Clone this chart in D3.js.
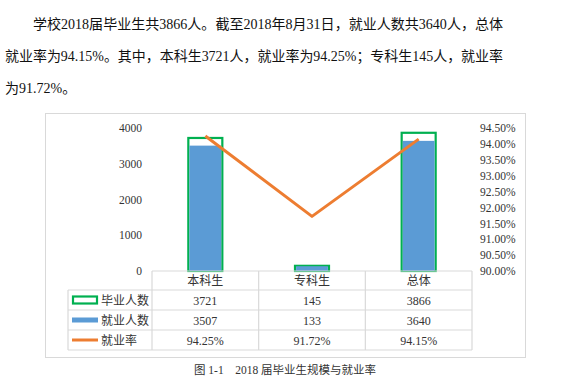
<!DOCTYPE html>
<html>
<head>
<meta charset="utf-8">
<script src="https://cdn.jsdelivr.net/npm/d3@7"></script>
<style>
  html, body { margin: 0; padding: 0; background: #fff; }
  svg { display: block; font-family: "Liberation Serif", "Noto Sans CJK SC", serif; }
</style>
</head>
<body>
<svg id="chart" width="586" height="387"></svg>
<script>
// data
const categories = ["本科生", "专科生", "总体"];
const graduates = [3721, 145, 3866];
const employed = [3507, 133, 3640];
const rates = [0.9425, 0.9172, 0.9415];
const rateLabels = ["94.25%", "91.72%", "94.15%"];
const leftTicks = [0, 1000, 2000, 3000, 4000];
const rightTicks = [0.90, 0.905, 0.91, 0.915, 0.92, 0.925, 0.93, 0.935, 0.94, 0.945];
const seriesNames = ["毕业人数", "就业人数", "就业率"];
const paragraph = [
    "学校2018届毕业生共3866人。截至2018年8月31日，就业人数共3640人，总体",
    "就业率为94.15%。其中，本科生3721人，就业率为94.25%；专科生145人，就业率",
    "为91.72%。"
];
const caption = "图 1-1　2018 届毕业生规模与就业率";

const GREEN = "#00b050", BLUE = "#5b9bd5", ORANGE = "#ed7d31", GRID = "#d9d9d9", TXT = "#333";

const svg = d3.select("#chart");

// paragraph text above the chart
svg.append("g").selectAll("text")
    .data(paragraph)
    .join("text")
    .attr("x", (d, i) => i === 0 ? 33 : 5)
    .attr("y", (d, i) => 29 + i * 32)
    .attr("font-size", 14)
    .attr("fill", "#111")
    .attr("textLength", (d, i) => i === 0 ? 470 : (i === 1 ? 498 : null))
    .attr("lengthAdjust", "spacingAndGlyphs")
    .text(d => d);

// chart frame
svg.append("rect")
    .attr("x", 45.5).attr("y", 113.5)
    .attr("width", 480).attr("height", 244)
    .attr("fill", "none").attr("stroke", GRID);

const x = d3.scaleBand().domain(categories).range([152, 472]);
const yL = d3.scaleLinear().domain([0, 4000]).range([271, 128]);
const yR = d3.scaleLinear().domain([0.90, 0.945]).range([271, 128]);
const barW = 34;

// axes (labels only)
const leftAxis = svg.append("g")
    .attr("transform", "translate(142,0)")
    .call(d3.axisLeft(yL).tickValues(leftTicks).tickSize(0).tickPadding(0).tickFormat(d3.format("d")));
const rightAxis = svg.append("g")
    .attr("transform", "translate(480,0)")
    .call(d3.axisRight(yR).tickValues(rightTicks).tickSize(0).tickPadding(0).tickFormat(d3.format(".2%")));
[leftAxis, rightAxis].forEach(a => {
    a.select(".domain").remove();
    a.attr("font-family", null).attr("font-size", 11.5);
    a.selectAll("text").attr("fill", TXT);
});

// bars: graduates as green outline, employed blue overlaid
const bars = svg.append("g");
bars.selectAll("rect.grad")
    .data(categories)
    .join("rect")
    .attr("class", "grad")
    .attr("x", d => x(d) + x.bandwidth() / 2 - barW / 2)
    .attr("y", (d, i) => yL(graduates[i]))
    .attr("width", barW)
    .attr("height", (d, i) => yL(0) - yL(graduates[i]))
    .attr("fill", "#fff")
    .attr("stroke", GREEN)
    .attr("stroke-width", 2.2);
bars.selectAll("rect.emp")
    .data(categories)
    .join("rect")
    .attr("class", "emp")
    .attr("x", d => x(d) + x.bandwidth() / 2 - barW / 2 + 1.1)
    .attr("y", (d, i) => yL(employed[i]))
    .attr("width", barW - 2.2)
    .attr("height", (d, i) => yL(0) - yL(employed[i]))
    .attr("fill", BLUE);

// employment-rate line
const line = d3.line()
    .x((d, i) => x(categories[i]) + x.bandwidth() / 2)
    .y(d => yR(d));
svg.append("path")
    .datum(rates)
    .attr("d", line)
    .attr("fill", "none")
    .attr("stroke", ORANGE)
    .attr("stroke-width", 3)
    .attr("stroke-linejoin", "round");

// data table under the plot
const rowY = [271, 290, 310, 330, 350];
const tableLeft = 68;
const grid = svg.append("g").attr("stroke", GRID).attr("stroke-width", 1.2);
grid.append("line").attr("x1", 152).attr("x2", 472).attr("y1", rowY[0]).attr("y2", rowY[0]);
rowY.slice(1).forEach(y => {
    grid.append("line").attr("x1", tableLeft).attr("x2", 472).attr("y1", y).attr("y2", y);
});
grid.append("line").attr("x1", tableLeft).attr("x2", tableLeft).attr("y1", rowY[1]).attr("y2", rowY[4]);
x.domain().forEach(c => {
    grid.append("line").attr("x1", x(c)).attr("x2", x(c)).attr("y1", rowY[0]).attr("y2", rowY[4]);
});
grid.append("line").attr("x1", 472).attr("x2", 472).attr("y1", rowY[0]).attr("y2", rowY[4]);

const cell = (txt, cx, row) => svg.append("text")
    .attr("x", cx).attr("y", (rowY[row] + rowY[row + 1]) / 2 + 4.5)
    .attr("text-anchor", "middle")
    .attr("font-size", 12)
    .attr("fill", TXT)
    .text(txt);

categories.forEach((c, i) => {
    const cx = x(c) + x.bandwidth() / 2;
    cell(c, cx, 0);
    cell(graduates[i], cx, 1);
    cell(employed[i], cx, 2);
    cell(rateLabels[i], cx, 3);
});

// legend keys inside the table
const keyX = 72, keyW = 26;
const midY = r => (rowY[r] + rowY[r + 1]) / 2;
svg.append("rect").attr("x", keyX + 1).attr("y", midY(1) - 3.5).attr("width", keyW - 2).attr("height", 7)
    .attr("fill", "#fff").attr("stroke", GREEN).attr("stroke-width", 2.2);
svg.append("rect").attr("x", keyX).attr("y", midY(2) - 2.5).attr("width", keyW).attr("height", 5)
    .attr("fill", BLUE);
svg.append("line").attr("x1", keyX).attr("x2", keyX + keyW).attr("y1", midY(3)).attr("y2", midY(3))
    .attr("stroke", ORANGE).attr("stroke-width", 3);
seriesNames.forEach((n, i) => {
    svg.append("text")
        .attr("x", 101).attr("y", midY(i + 1) + 4.5)
        .attr("font-size", 12)
        .attr("fill", TXT)
        .text(n);
});

// caption
svg.append("text")
    .attr("x", 285).attr("y", 374)
    .attr("text-anchor", "middle")
    .attr("font-size", 11.5)
    .attr("fill", TXT)
    .text(caption);
</script>
</body>
</html>
